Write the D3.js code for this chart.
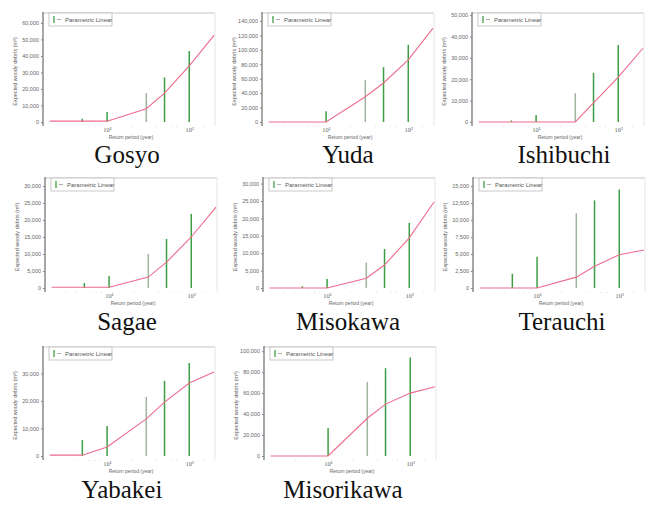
<!DOCTYPE html>
<html>
<head>
<meta charset="utf-8">
<script src="https://cdn.jsdelivr.net/npm/d3@7"></script>
<style>
  html, body { margin: 0; padding: 0; background: #fff; }
  svg { display: block; }
</style>
</head>
<body>
<svg id="chart" width="648" height="506"></svg>
<script>
// ---------------- DATA ----------------
const sites = ["Gosyo", "Yuda", "Ishibuchi", "Sagae", "Misokawa", "Terauchi", "Yabakei", "Misorikawa"];

// return periods (years)
const barPeriods = [5, 10, 30, 50, 100];
const linePeriods = [2, 5, 10, 30, 50, 100, 200];

// Parametric estimates (bars), m^3
const barGosyo      = [2000, 6000, 17500, 27000, 43000];
const barYuda       = [0, 15000, 58000, 76000, 107000];
const barIshibuchi  = [700, 3300, 13500, 23000, 36000];
const barSagae      = [1500, 3500, 10000, 14400, 21800];
const barMisokawa   = [500, 2600, 7300, 11200, 18700];
const barTerauchi   = [2100, 4600, 11000, 12900, 14500];
const barYabakei    = [5800, 10900, 21500, 27300, 33800];
const barMisorikawa = [0, 26700, 70500, 83800, 94000];

// Linear estimates (line), m^3
const lineGosyo      = [500, 500, 500, 8000, 17500, 34000, 52500];
const lineYuda       = [0, 0, 0, 35000, 54000, 86000, 130000];
const lineIshibuchi  = [0, 0, 0, 0, 9000, 21000, 34500];
const lineSagae      = [200, 200, 200, 3200, 7600, 15000, 23800];
const lineMisokawa   = [0, 0, 0, 2800, 6600, 14400, 24700];
const lineTerauchi   = [0, 0, 0, 1600, 3200, 4900, 5600];
const lineYabakei    = [300, 300, 3300, 13500, 19600, 26500, 30500];
const lineMisorikawa = [0, 0, 0, 36000, 49500, 60000, 66000];

// axis settings
const yTopValues = [66000, 151000, 51000, 32350, 31600, 16200, 39600, 104000];
const yTickSteps = [10000, 20000, 10000, 5000, 5000, 2500, 10000, 20000];
const xTickValues = [10, 100];

const barSeries = [barGosyo, barYuda, barIshibuchi, barSagae, barMisokawa, barTerauchi, barYabakei, barMisorikawa];
const lineSeries = [lineGosyo, lineYuda, lineIshibuchi, lineSagae, lineMisokawa, lineTerauchi, lineYabakei, lineMisorikawa];

// ---------------- LAYOUT (positions only) ----------------
const layout = [
  {ax: 43,  top: 13,  y0: 122, cx: 127, cy: 163},
  {ax: 262, top: 13,  y0: 122, cx: 348, cy: 163},
  {ax: 472, top: 13,  y0: 122, cx: 564, cy: 163},
  {ax: 45,  top: 178, y0: 288, cx: 127, cy: 330},
  {ax: 263, top: 178, y0: 288, cx: 348, cy: 330},
  {ax: 473, top: 178, y0: 288, cx: 562, cy: 330},
  {ax: 43,  top: 347, y0: 456, cx: 122, cy: 498},
  {ax: 264, top: 347, y0: 456, cx: 343, cy: 498}
];
const plotW = 171;
const barColor = "#3f9e44";
const barColorMid = "#9fb49f";
const lineColor = "#ee6b8d";

const svg = d3.select("#chart");
const fmt = d3.format(",");
const sup = {1: "\u00b9", 2: "\u00b2"};

sites.forEach((name, i) => {
  const L = layout[i];
  const g = svg.append("g");

  const x = d3.scaleLog().domain([1.66, 200]).range([L.ax, L.ax + plotW]);
  const y = d3.scaleLinear().domain([0, yTopValues[i]]).range([L.y0, L.top]);

  // frame (top & right), light
  g.append("line").attr("x1", L.ax).attr("x2", L.ax + plotW + 1)
    .attr("y1", L.top).attr("y2", L.top)
    .attr("stroke", "#c8c8c8").attr("stroke-width", 1.2);
  g.append("line").attr("x1", L.ax + plotW + 1).attr("x2", L.ax + plotW + 1)
    .attr("y1", L.top).attr("y2", L.y0 + 4)
    .attr("stroke", "#e6e6e6").attr("stroke-width", 1);

  // y axis
  const ticks = d3.range(0, yTopValues[i], yTickSteps[i]);
  const yAxis = d3.axisLeft(y).tickValues(ticks).tickSize(2).tickPadding(2)
    .tickFormat(d => fmt(d));
  const ya = g.append("g").attr("transform", `translate(${L.ax},0)`).call(yAxis);
  ya.select(".domain").attr("stroke", "#777").attr("stroke-width", 1.3)
    .attr("d", `M0,${L.top - 1}V${L.y0 + 4}`);
  ya.selectAll(".tick line").attr("stroke", "#888");
  ya.selectAll(".tick text").attr("fill", "#666")
    .style("font-family", "Liberation Sans, sans-serif").style("font-size", "5.5px");

  // x axis (no domain line)
  const xAxis = d3.axisBottom(x).tickValues(xTickValues).tickSize(0).tickPadding(3)
    .tickFormat(d => "10" + sup[Math.round(Math.log10(d))]);
  const xa = g.append("g").attr("transform", `translate(0,${L.y0 + 2})`).call(xAxis);
  xa.select(".domain").remove();
  xa.selectAll(".tick text").attr("fill", "#666")
    .style("font-family", "Liberation Serif, serif").style("font-size", "6.5px");

  // minor ticks
  const minor = [3, 4, 6, 7, 8, 20, 40, 60, 70, 150];
  g.selectAll(".minor").data(minor).enter().append("line")
    .attr("x1", d => x(d)).attr("x2", d => x(d))
    .attr("y1", L.y0 + 4).attr("y2", L.y0 + 5)
    .attr("stroke", "#ddd").attr("stroke-width", 1);

  // axis titles
  g.append("text").attr("x", L.ax + 88).attr("y", L.y0 + 17)
    .attr("text-anchor", "middle").attr("fill", "#666")
    .style("font-family", "Liberation Sans, sans-serif").style("font-size", "5px")
    .text("Return period (year)");
  g.append("text")
    .attr("transform", `translate(${L.ax - 26},${(L.top + L.y0) / 2 + 4}) rotate(-90)`)
    .attr("text-anchor", "middle").attr("fill", "#666")
    .style("font-family", "Liberation Sans, sans-serif").style("font-size", "5.5px")
    .text("Expected woody debris (m\u00b3)");

  // bars
  g.selectAll(".bar").data(barSeries[i].map((v, k) => ({p: barPeriods[k], v})))
    .enter().append("line")
    .attr("x1", d => x(d.p)).attr("x2", d => x(d.p))
    .attr("y1", y(0)).attr("y2", d => y(d.v))
    .attr("stroke", d => d.p === 30 ? barColorMid : barColor)
    .attr("stroke-width", 1.5);

  // line
  const lineGen = d3.line().x(d => x(d.p)).y(d => y(d.v)).curve(d3.curveLinear);
  g.append("path")
    .datum(lineSeries[i].map((v, k) => ({p: linePeriods[k], v})))
    .attr("d", lineGen).attr("fill", "none")
    .attr("stroke", lineColor).attr("stroke-width", 1.1);

  // legend
  const lg = g.append("g").attr("transform", `translate(${L.ax + 6},${L.top})`);
  lg.append("rect").attr("width", 63).attr("height", 13)
    .attr("fill", "#fff").attr("stroke", "#bbb").attr("stroke-width", 0.8);
  lg.append("line").attr("x1", 5).attr("x2", 5).attr("y1", 3).attr("y2", 10)
    .attr("stroke", barColor).attr("stroke-width", 1.3);
  lg.append("line").attr("x1", 8).attr("x2", 12).attr("y1", 6.5).attr("y2", 6.5)
    .attr("stroke", "#999").attr("stroke-width", 0.8);
  lg.append("text").attr("x", 16).attr("y", 8.5).attr("fill", "#555")
    .style("font-family", "Liberation Sans, sans-serif").style("font-size", "6px")
    .text("Parametric Linear");

  // caption
  svg.append("text").attr("x", L.cx).attr("y", L.cy)
    .attr("text-anchor", "middle").attr("fill", "#111")
    .style("font-family", "Liberation Serif, serif").style("font-size", "25px")
    .text(name);
});
</script>
</body>
</html>
